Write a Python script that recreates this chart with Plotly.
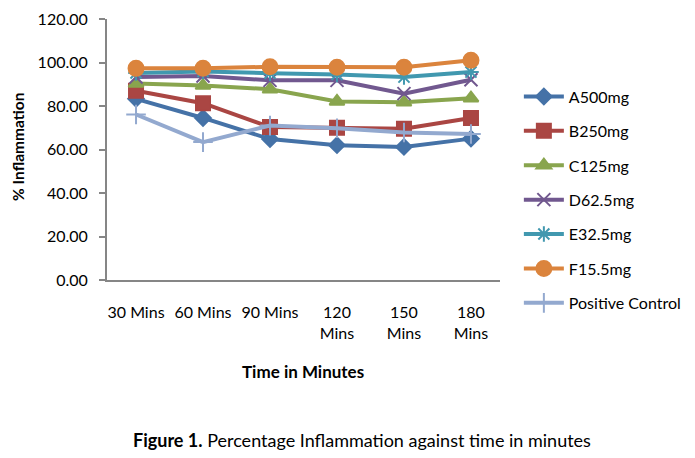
import plotly.graph_objects as go

categories = ["30 Mins", "60 Mins", "90 Mins", "120<br>Mins", "150<br>Mins", "180<br>Mins"]
a500 = [83.3, 74.5, 64.8, 62.0, 61.2, 65.0]
b250 = [87.0, 81.3, 70.3, 70.0, 69.5, 74.5]
c125 = [90.3, 89.4, 87.7, 82.1, 81.7, 83.6]
d62 = [93.3, 93.8, 91.8, 91.8, 85.7, 92.1]
e32 = [95.2, 95.9, 95.1, 94.5, 93.3, 95.6]
f15 = [97.3, 97.4, 98.0, 97.8, 97.8, 101.0]
pos = [76.1, 63.4, 71.0, 69.8, 67.8, 67.1]

names = ["A500mg", "B250mg", "C125mg", "D62.5mg", "E32.5mg", "F15.5mg", "Positive Control"]
series = [a500, b250, c125, d62, e32, f15, pos]
colors = ["#4572A7", "#AA4643", "#89A54E", "#71588F", "#4198AF", "#DB843D", "#93A9CF"]
symbols = ["diamond", "square", "triangle-up", "x-thin-open", "asterisk-open", "circle", "cross-thin-open"]
sizes = [12, 14, 13, 13, 13, 15, 14]

fig = go.Figure()
for i, (n, s) in enumerate(zip(names, series)):
    fig.add_trace(go.Scatter(
        x=categories, y=s, name=n, mode="lines+markers",
        line=dict(color=colors[i], width=4),
        marker=dict(symbol=symbols[i], size=sizes[i], color=colors[i],
                    line=dict(color=colors[i], width=2)),
        legendgroup=n,
    ))

font = "Lato, 'Open Sans', sans-serif"
fig.update_layout(
    width=695, height=458,
    margin=dict(l=99, r=203, t=11, b=186, autoexpand=False),
    paper_bgcolor="white", plot_bgcolor="white",
    font=dict(family=font, size=16, color="#000000"),
    showlegend=True,
    legend=dict(x=1.048, y=0.768, xanchor="left", yanchor="top",
                font=dict(size=16, color="#000"), tracegroupgap=10.6,
                itemwidth=40, bgcolor="rgba(0,0,0,0)"),
    xaxis=dict(type="category", showgrid=False, showline=True, linecolor="#868686",
               linewidth=2, ticks="", tickfont=dict(size=16), zeroline=False,
               tickangle=0, ticklabelstandoff=17, automargin=False),
    yaxis=dict(range=[0, 120], dtick=20, tickformat=".2f", showgrid=False,
               showline=True, linecolor="#868686", linewidth=2, ticks="outside",
               ticklen=6, tickcolor="#868686", tickwidth=1.5, zeroline=False,
               tickfont=dict(size=16), ticklabelstandoff=8, automargin=False,
               ticklabeloverflow="allow"),
    annotations=[
        dict(text="<b>% Inflammation</b>", x=-0.2265, y=0.51, xref="paper", yref="paper",
             xanchor="center", yanchor="middle",
             textangle=-90, showarrow=False, font=dict(size=15.5)),
        dict(text="<b>Time in Minutes</b>", x=0.499, y=-0.352, xref="paper", yref="paper",
             xanchor="center", yanchor="middle",
             showarrow=False, font=dict(size=17)),
        dict(text="<b>Figure 1.</b> Percentage Inflammation against time in minutes",
             x=0.649, y=-0.613, xref="paper", yref="paper", showarrow=False,
             xanchor="center", yanchor="middle",
             font=dict(size=18)),
    ],
)
fig.write_html("out.html")
